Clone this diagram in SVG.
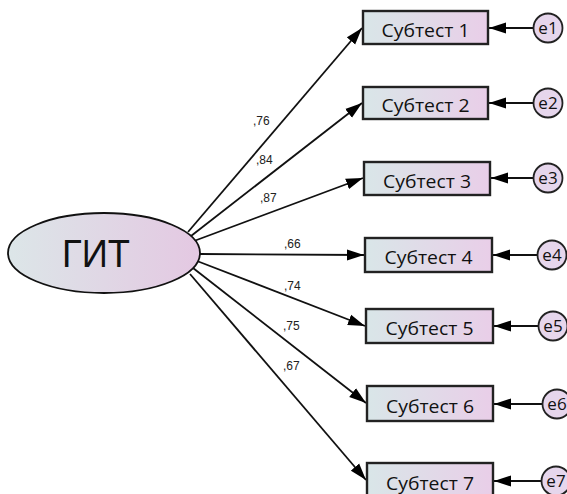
<svg xmlns="http://www.w3.org/2000/svg" width="567" height="494" viewBox="0 0 567 494">
<style>
.box{stroke:#222;stroke-width:2.4;fill:url(#g)}
.err{stroke:#222;stroke-width:1.8;fill:#e6d6ec}
.lat{stroke:#111;stroke-width:1.8;fill:url(#g2)}
.bt{font-family:"Open Sans","Noto Sans",sans-serif;font-size:18.5px;fill:#111;text-anchor:middle}
.et{font-family:"Open Sans","Noto Sans",sans-serif;font-size:17px;fill:#111;text-anchor:middle}
.lb{font-family:"Liberation Sans",Arial,sans-serif;font-size:12px;fill:#222}
.c line{stroke:#111;stroke-width:1.8}
</style>
<defs>
<linearGradient id="g" x1="0" y1="0" x2="1" y2="0"><stop offset="0" stop-color="#d9e6e8"/><stop offset="1" stop-color="#e9cee8"/></linearGradient>
<linearGradient id="g2" x1="0" y1="0" x2="1" y2="0"><stop offset="0" stop-color="#dce6e8"/><stop offset="1" stop-color="#e4c8e2"/></linearGradient>
<marker id="a" markerUnits="userSpaceOnUse" markerWidth="18" markerHeight="12" refX="17" refY="6" orient="auto"><path d="M0,0.5 L17,6 L0,11.5 z" fill="#000"/></marker>
</defs>
<g id="connectors" class="c">
<line x1="188" y1="232" x2="362" y2="28" marker-end="url(#a)"/>
<line x1="191" y1="236" x2="362" y2="103" marker-end="url(#a)"/>
<line x1="194" y1="241" x2="363" y2="178" marker-end="url(#a)"/>
<line x1="200" y1="254" x2="364" y2="255" marker-end="url(#a)"/>
<line x1="197" y1="261" x2="365" y2="326" marker-end="url(#a)"/>
<line x1="193" y1="268" x2="366" y2="403" marker-end="url(#a)"/>
<line x1="190" y1="274" x2="366" y2="480" marker-end="url(#a)"/>
<line x1="533" y1="28" x2="489" y2="28" marker-end="url(#a)"/>
<line x1="533" y1="103" x2="489" y2="103" marker-end="url(#a)"/>
<line x1="533" y1="178" x2="491" y2="178" marker-end="url(#a)"/>
<line x1="537" y1="255" x2="493" y2="255" marker-end="url(#a)"/>
<line x1="538" y1="326" x2="494" y2="326" marker-end="url(#a)"/>
<line x1="542" y1="404" x2="494" y2="404" marker-end="url(#a)"/>
<line x1="541" y1="481" x2="494" y2="481" marker-end="url(#a)"/>
<text class="lb" x="253" y="125">,76</text>
<text class="lb" x="256" y="164">,84</text>
<text class="lb" x="260" y="202">,87</text>
<text class="lb" x="284" y="248">,66</text>
<text class="lb" x="284" y="290">,74</text>
<text class="lb" x="283" y="330">,75</text>
<text class="lb" x="283" y="370">,67</text>
</g>
<g id="GIT"><ellipse class="lat" cx="104" cy="253" rx="96" ry="40"/><text x="96" y="267" font-family="'Liberation Sans',Arial,sans-serif" font-size="39" text-anchor="middle" fill="#111" textLength="68" lengthAdjust="spacingAndGlyphs">ГИТ</text></g>
<g id="s1"><rect class="box" x="363" y="11" width="125" height="33"/><text class="bt" x="425.5" y="37" textLength="88" lengthAdjust="spacingAndGlyphs">Субтест 1</text></g>
<g id="s2"><rect class="box" x="363" y="87" width="125" height="32"/><text class="bt" x="425.5" y="112" textLength="88" lengthAdjust="spacingAndGlyphs">Субтест 2</text></g>
<g id="s3"><rect class="box" x="364" y="162" width="126" height="33"/><text class="bt" x="427" y="188" textLength="88" lengthAdjust="spacingAndGlyphs">Субтест 3</text></g>
<g id="s4"><rect class="box" x="365" y="238" width="127" height="34"/><text class="bt" x="428.5" y="264" textLength="88" lengthAdjust="spacingAndGlyphs">Субтест 4</text></g>
<g id="s5"><rect class="box" x="366" y="309" width="127" height="34"/><text class="bt" x="429.5" y="335" textLength="88" lengthAdjust="spacingAndGlyphs">Субтест 5</text></g>
<g id="s6"><rect class="box" x="367" y="386" width="126" height="35"/><text class="bt" x="430" y="413" textLength="88" lengthAdjust="spacingAndGlyphs">Субтест 6</text></g>
<g id="s7"><rect class="box" x="367" y="463" width="126" height="35"/><text class="bt" x="430" y="490" textLength="88" lengthAdjust="spacingAndGlyphs">Субтест 7</text></g>
<g id="e1"><circle class="err" cx="548" cy="28" r="14.5"/><text class="et" x="548" y="34">e1</text></g>
<g id="e2"><circle class="err" cx="548" cy="103" r="14.5"/><text class="et" x="548" y="109">e2</text></g>
<g id="e3"><circle class="err" cx="548" cy="178" r="14.5"/><text class="et" x="548" y="184">e3</text></g>
<g id="e4"><circle class="err" cx="552" cy="255" r="14.5"/><text class="et" x="552" y="261">e4</text></g>
<g id="e5"><circle class="err" cx="553" cy="326" r="14.5"/><text class="et" x="553" y="332">e5</text></g>
<g id="e6"><circle class="err" cx="557" cy="404" r="14.5"/><text class="et" x="557" y="410">e6</text></g>
<g id="e7"><circle class="err" cx="556" cy="481" r="14.5"/><text class="et" x="556" y="487">e7</text></g>
</svg>
